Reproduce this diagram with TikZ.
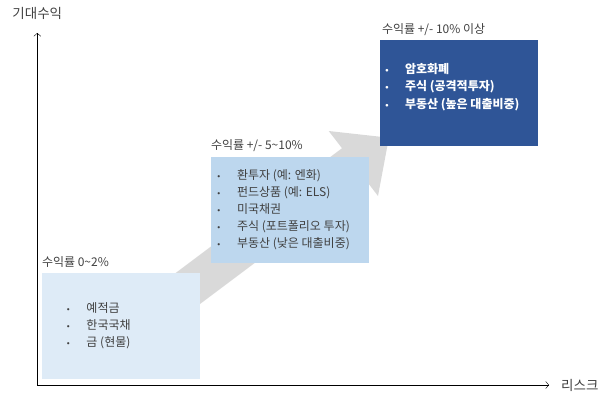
\documentclass[tikz,border=0pt]{standalone}
\usepackage{fontspec}
\setmainfont{Noto Sans CJK KR}
\newfontfamily\bulletfont{DejaVu Sans}
\usetikzlibrary{positioning,arrows.meta}
\definecolor{paleblue}{HTML}{DEEBF7}
\definecolor{midblue}{HTML}{BDD7EE}
\definecolor{deepblue}{HTML}{2F5597}
\definecolor{textgray}{HTML}{404040}
\definecolor{arrowgray}{HTML}{D9D9D9}
\newcommand{\itm}[1]{\makebox[20.5pt][l]{\bulletfont\fontsize{7.5}{7.5}\selectfont •}#1}

\begin{document}
\begin{tikzpicture}[x=1pt,y=-1pt,>={Straight Barb[length=3pt,width=7pt]},
    box/.style={rectangle,inner sep=0pt,minimum width=158pt,minimum height=106pt},
    title/.style={inner sep=0pt,font=\fontsize{12}{14}\selectfont,text=textgray},
    list/.style={inner sep=0pt,align=left,font=\fontsize{12}{17}\selectfont,text=textgray},
    axis label/.style={inner sep=0pt,font=\fontsize{13.5}{15}\selectfont,text=textgray}]
    \useasboundingbox (0,0) rectangle (611,404);

    % big grey arrow behind the boxes
    \fill[arrowgray] (107.9,323.8) -- (342,148.2) -- (328.7,131) -- (388.9,137.7)
        -- (378,196) -- (365.6,179.8) -- (131.5,355.4) -- cycle;

    \node[box, fill=paleblue] (box1) at (121,325.5) {};
    \node[box, fill=midblue] (box2) at (289.5,210) {};
    \node[box, fill=deepblue] (box3) at (459,93.3) {};

    \node[title, above right=4.5pt and 0pt of box1.north west] (title1) {수익률 0\textasciitilde 2\%};
    \node[title, above right=4.5pt and 0.5pt of box2.north west] (title2) {수익률 +/- 5\textasciitilde 10\%};
    \node[title, above right=4.5pt and 2pt of box3.north west] (title3) {수익률 +/- 10\% 이상};

    \node[list, right=24pt of box1.west] (list1) {\itm{예적금}\\ \itm{한국국채}\\ \itm{금 (현물)}};
    \node[list, right=6pt of box2.west] (list2) {\itm{환투자 (예: 엔화)}\\ \itm{펀드상품 (예: ELS)}\\
        \itm{미국채권}\\ \itm{주식 (포트폴리오 투자)}\\ \itm{부동산 (낮은 대출비중)}};
    \node[list, right=4.5pt of box3.west, yshift=6.6pt, text=white, font=\fontsize{12}{17.5}\selectfont\bfseries] (list3)
        {\itm{암호화폐}\\ \itm{주식 (공격적투자)}\\ \itm{부동산 (높은 대출비중)}};

    % axes
    \coordinate (origin) at (37.3,385);
    \coordinate (ytip) at (37.3,33);
    \coordinate (xtip) at (549,385);
    \draw[<->, thin] (ytip) |- (xtip);
    \node[axis label, above=13pt of ytip] (ylabel) {기대수익};
    \node[axis label, right=12pt of xtip] (xlabel) {리스크};
\end{tikzpicture}
\end{document}
